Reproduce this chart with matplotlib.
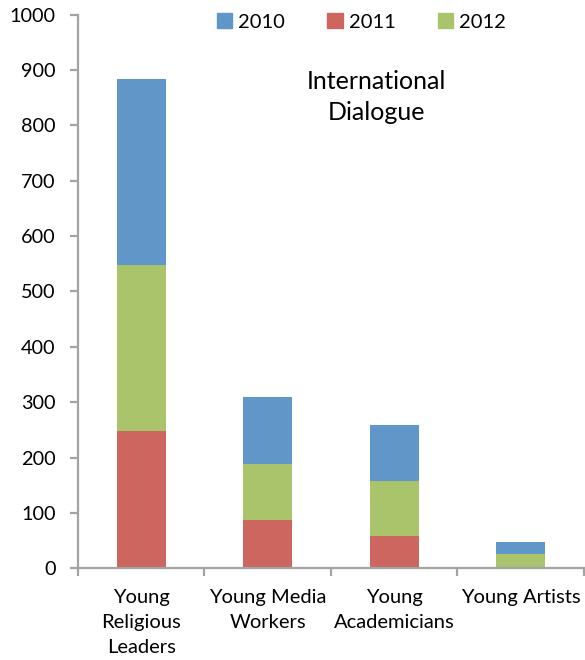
import matplotlib
matplotlib.use("Agg")
import matplotlib.pyplot as plt
from matplotlib.patches import Patch

categories = ["Young\nReligious\nLeaders", "Young Media\nWorkers", "Young\nAcademicians", "Young Artists"]
years = ["2010", "2011", "2012"]
v2011 = [247, 87, 59, 0]
v2012 = [301, 101, 99, 25]
v2010 = [336, 122, 101, 23]
yticks = [0, 100, 200, 300, 400, 500, 600, 700, 800, 900, 1000]

c2010 = "#6096C8"
c2011 = "#CE6660"
c2012 = "#AAC46C"
axis_gray = "#A3A3A3"

plt.rcParams["font.family"] = ["Lato", "DejaVu Sans"]

fig = plt.figure(figsize=(5.85, 6.6), dpi=100)
ax = fig.add_axes([0.1333, 0.139, 0.865, 0.839])

x = list(range(len(categories)))
w = 0.39
ax.bar(x, v2011, width=w, color=c2011, edgecolor="none")
base2 = v2011
ax.bar(x, v2012, width=w, bottom=base2, color=c2012, edgecolor="none")
base3 = [a + b for a, b in zip(v2011, v2012)]
ax.bar(x, v2010, width=w, bottom=base3, color=c2010, edgecolor="none")

ax.set_xlim(-0.5, len(categories) - 0.5)
ax.set_ylim(0, 1000)
ax.set_yticks(yticks)
ax.set_yticklabels([str(t) for t in yticks], fontsize=14.3)

# category labels centred, separators as minor ticks
ax.set_xticks(x)
ax.set_xticklabels(categories, fontsize=14.5, linespacing=1.58)
ax.tick_params(axis="x", which="major", length=0, pad=15)
ax.set_xticks([i - 0.5 for i in range(len(categories) + 1)], minor=True)
ax.tick_params(axis="x", which="minor", length=6, width=1.6, color=axis_gray, direction="out")
ax.tick_params(axis="y", length=6, width=1.6, color=axis_gray, direction="out", pad=10)

for s in ["top", "right"]:
    ax.spines[s].set_visible(False)
for s in ["left", "bottom"]:
    ax.spines[s].set_color(axis_gray)
    ax.spines[s].set_linewidth(1.6)

ax.text(0.589, 0.851, "International\nDialogue", transform=ax.transAxes,
        ha="center", va="center", fontsize=18, linespacing=1.43)

handles = [Patch(color=c2010), Patch(color=c2011), Patch(color=c2012)]
ax.legend(handles, years, loc="upper center", bbox_to_anchor=(0.56, 1.035), ncol=3,
          frameon=False, fontsize=14.5, handlelength=0.75, handleheight=0.75,
          handletextpad=0.3, columnspacing=2.1)

fig.savefig("out.png", dpi=100)
